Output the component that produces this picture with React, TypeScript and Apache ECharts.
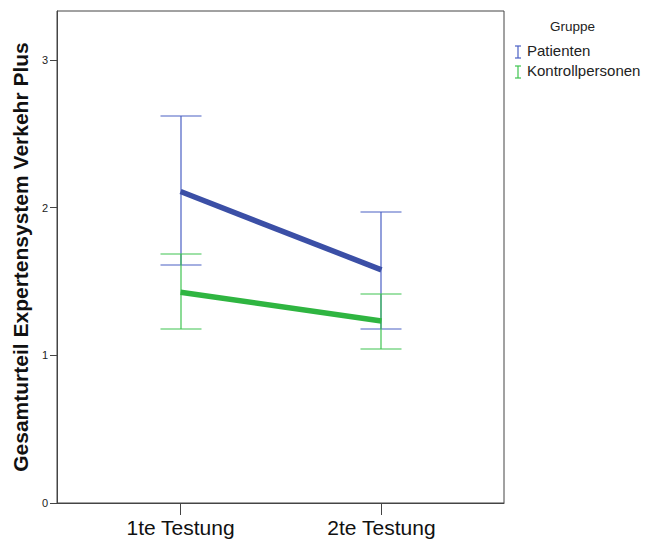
import React, { useEffect, useRef } from "react";
import * as echarts from "echarts";

const categories = ["1te Testung", "2te Testung"];
const groups = ["Patienten", "Kontrollpersonen"];
const patMean = [2.108, 1.578];
const patLow = [1.611, 1.176];
const patHigh = [2.616, 1.972];
const konMean = [1.426, 1.232];
const konLow = [1.178, 1.04];
const konHigh = [1.688, 1.417];
const yTicks = [0, 1, 2, 3];

const BLUE_LINE = "#3b4fa6";
const BLUE_ERR = "#4a60c4";
const GREEN_LINE = "#2fb541";
const GREEN_ERR = "#3ec450";

function errSeries(name: string, low: number[], high: number[], color: string) {
  return {
    type: "custom",
    name,
    data: categories.map((_, i) => [i + 1, low[i], high[i]]),
    renderItem: (params: any, api: any) => {
      const x = api.value(0);
      const lo = api.coord([x, api.value(1)]);
      const hi = api.coord([x, api.value(2)]);
      const cx = Math.round(lo[0]);
      const yl = Math.round(lo[1]);
      const yh = Math.round(hi[1]);
      const hw = 20.5;
      const style = { stroke: color, lineWidth: 1.2 };
      return {
        type: "group",
        children: [
          { type: "line", shape: { x1: cx, y1: yl, x2: cx, y2: yh }, style },
          { type: "line", shape: { x1: cx - hw, y1: yl, x2: cx + hw, y2: yl }, style },
          { type: "line", shape: { x1: cx - hw, y1: yh, x2: cx + hw, y2: yh }, style },
        ],
      };
    },
    z: 2,
  };
}

function meanSeries(name: string, mean: number[], color: string) {
  return {
    type: "line",
    name,
    data: categories.map((_, i) => [i + 1, mean[i]]),
    symbol: "none",
    lineStyle: { color, width: 5.5 },
    z: 3,
  };
}

function legendIcon(x: number, y: number, color: string) {
  const s = { stroke: color, lineWidth: 1.2 };
  return [
    { type: "line", shape: { x1: x + 3, y1: y - 6, x2: x + 3, y2: y + 6 }, style: s },
    { type: "line", shape: { x1: x, y1: y - 6, x2: x + 6, y2: y - 6 }, style: s },
    { type: "line", shape: { x1: x, y1: y + 6, x2: x + 6, y2: y + 6 }, style: s },
  ];
}

export default function App() {
  const ref = useRef<HTMLDivElement>(null);
  useEffect(() => {
    if (!ref.current) return;
    const chart = echarts.init(ref.current, undefined, { renderer: "svg" });
    const font = "Liberation Sans, Arial, sans-serif";
    chart.setOption({
      animation: false,
      backgroundColor: "#ffffff",
      textStyle: { fontFamily: font },
      grid: {
        left: 57,
        right: 143,
        top: 11,
        bottom: 39,
        show: true,
        borderColor: "#444444",
        borderWidth: 1,
        backgroundColor: "transparent",
      },
      xAxis: {
        type: "value",
        min: 0.385,
        max: 2.61,
        splitLine: { show: false },
        axisLine: { show: true, lineStyle: { color: "#444444", width: 1 } },
        axisTick: {
          show: true,
          length: 12,
          lineStyle: { color: "#444444" },
          customValues: [1, 2],
        },
        axisLabel: {
          customValues: [1, 2],
          formatter: (v: number) => categories[Math.round(v) - 1] ?? "",
          fontSize: 21,
          color: "#111111",
          margin: 14,
          fontFamily: font,
        },
      },
      yAxis: {
        type: "value",
        min: 0,
        max: 3.33,
        name: "Gesamturteil Expertensystem Verkehr Plus",
        nameLocation: "middle",
        nameGap: 25,
        nameTextStyle: { fontSize: 21, fontWeight: "bold", color: "#111111", fontFamily: font },
        splitLine: { show: false },
        axisLine: { show: true, lineStyle: { color: "#444444", width: 1 } },
        axisTick: {
          show: true,
          length: 7,
          lineStyle: { color: "#444444" },
          customValues: yTicks,
        },
        axisLabel: {
          customValues: yTicks,
          fontSize: 11,
          color: "#222222",
          margin: 9,
          fontFamily: font,
        },
      },
      series: [
        errSeries(groups[0] + " CI", patLow, patHigh, BLUE_ERR),
        errSeries(groups[1] + " CI", konLow, konHigh, GREEN_ERR),
        meanSeries(groups[0], patMean, BLUE_LINE),
        meanSeries(groups[1], konMean, GREEN_LINE),
      ],
      graphic: [
        {
          type: "text",
          left: 550,
          top: 19,
          style: { text: "Gruppe", fontSize: 13.5, fill: "#222222", fontFamily: font },
        },
        ...legendIcon(515, 52, BLUE_ERR),
        {
          type: "text",
          left: 527,
          top: 43,
          style: { text: groups[0], fontSize: 15, fill: "#222222", fontFamily: font },
        },
        ...legendIcon(515, 72, GREEN_ERR),
        {
          type: "text",
          left: 527,
          top: 63,
          style: { text: groups[1], fontSize: 15, fill: "#222222", fontFamily: font },
        },
      ],
    });
    return () => chart.dispose();
  }, []);
  return <div ref={ref} style={{ width: 647, height: 542, position: "absolute", left: 0, top: 0 }} />;
}
